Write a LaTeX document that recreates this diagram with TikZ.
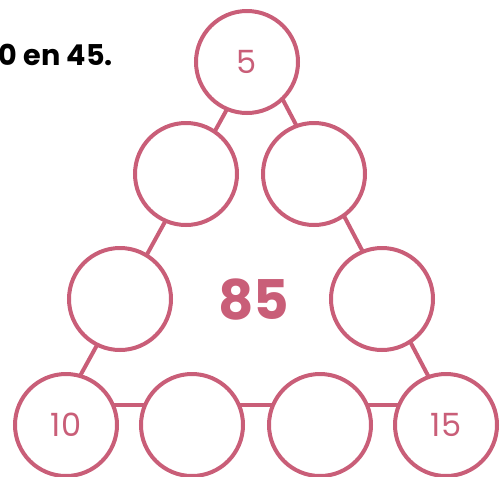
\documentclass[tikz,border=0pt]{standalone}
\usepackage{fontspec}
\setmainfont{Poppins}
\definecolor{rose}{RGB}{201,94,120}
\begin{document}
\begin{tikzpicture}[x=0.75pt,y=-0.75pt,
  ring/.style={circle,draw=rose,line width=3pt,fill=white,minimum size=76.5pt,inner sep=0pt,text=rose,font=\fontsize{24}{28}\selectfont},
  link/.style={draw=rose,line width=3pt}]
\useasboundingbox (0,0) rectangle (504,476);
\coordinate (tc) at (247,62);
\coordinate (b1c) at (66,425);
\coordinate (b4c) at (446,425);
\draw[link] ([xshift=4.5pt]tc) -- ([xshift=-9.75pt]b1c);
\draw[link] ([xshift=12pt]tc) -- ([xshift=6pt]b4c);
\draw[link] ([yshift=15pt]b1c) -- ([yshift=15pt]b4c);
\node[ring] (t) at (tc) {5};
\node[ring] (l2) at (186,174) {};
\node[ring] (r2) at (314,174) {};
\node[ring] (l3) at (120,299) {};
\node[ring] (r3) at (382,299) {};
\node[ring] (b1) at (b1c) {10};
\node[ring] (b2) at (192,425) {};
\node[ring] (b3) at (320,425) {};
\node[ring] (b4) at (b4c) {15};
\node[text=rose,font=\fontsize{41}{48}\selectfont\bfseries] (sum) at (254,300) {85};
\node[anchor=base east,font=\fontsize{21.5}{25}\selectfont\bfseries,inner sep=0pt] (txt) at (113,65) {0 en 45.};
\end{tikzpicture}
\end{document}
